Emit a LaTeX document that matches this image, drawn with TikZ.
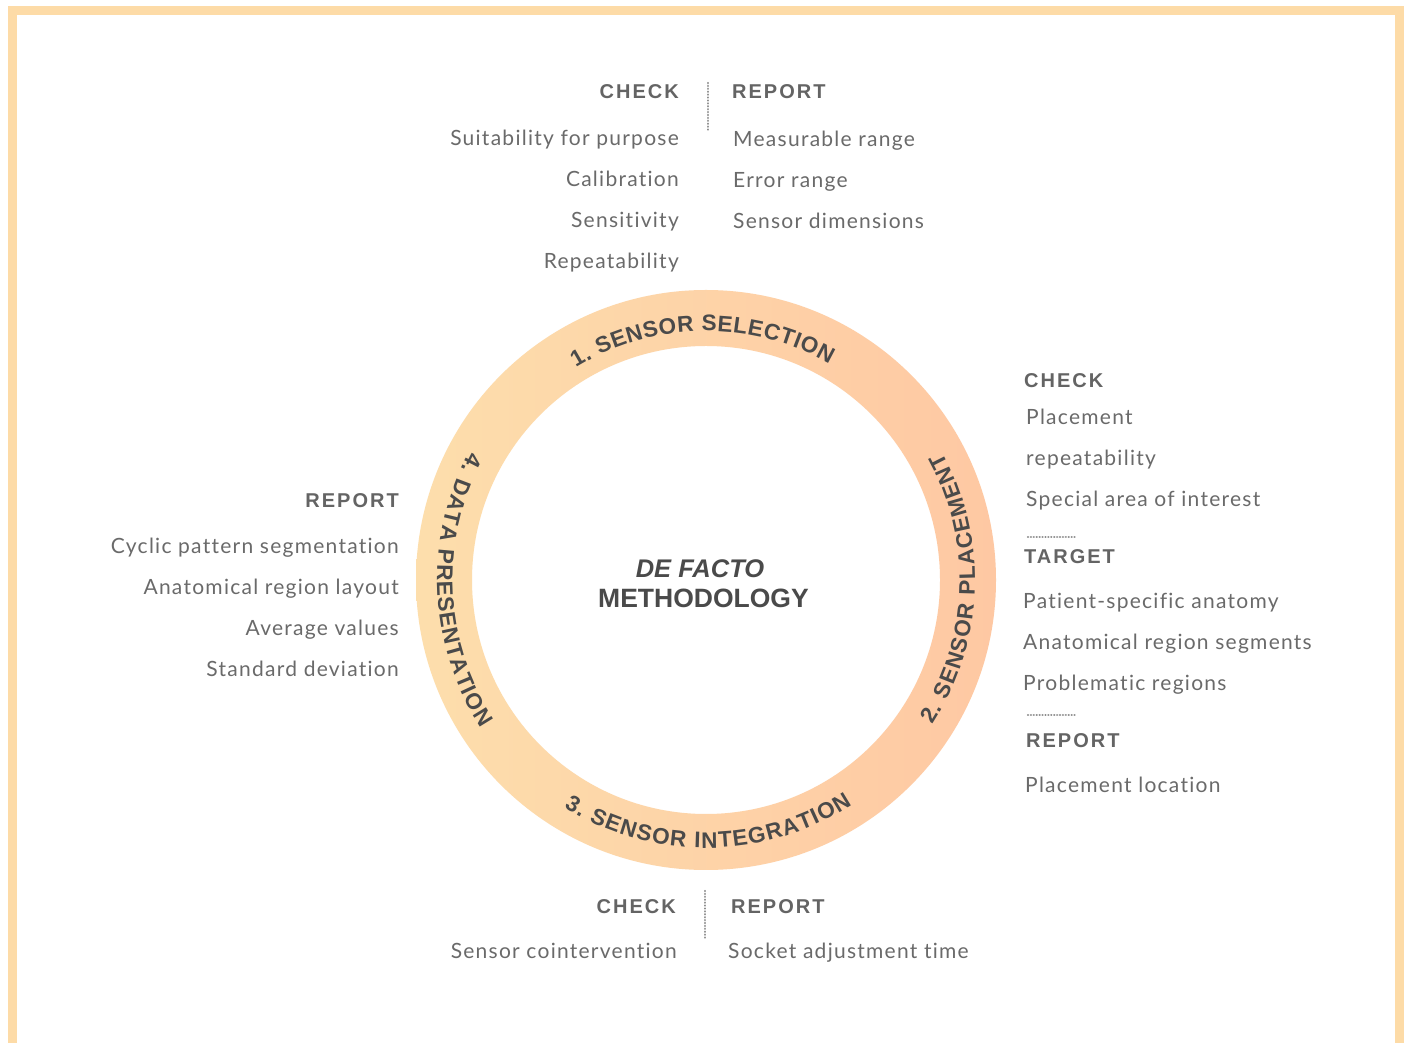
\documentclass[tikz,border=0pt]{standalone}
\usepackage{fontspec}
\setmainfont{Liberation Sans}
\newfontfamily\listfont{Lato}[LetterSpace=6,Ligatures=NoCommon]
\newfontfamily\headfont{Liberation Sans}[LetterSpace=10]
\usetikzlibrary{decorations.text}
\definecolor{framec}{HTML}{FDDBA7}
\definecolor{ringL}{HTML}{FDDEAC}
\definecolor{ringR}{HTML}{FEC8A3}
\definecolor{ringtext}{HTML}{4A4A4A}
\definecolor{headc}{HTML}{646464}
\definecolor{listc}{HTML}{6A6A6A}
\definecolor{dotc}{HTML}{8C8C8C}
\newcommand{\ringfont}{\fontsize{22.5}{26}\selectfont\bfseries\color{ringtext}}
\begin{document}
\begin{tikzpicture}[x=1pt,y=1pt,
  head/.style={font=\headfont\bfseries\fontsize{20}{22}\selectfont, text=headc, inner sep=0pt},
  item/.style={font=\listfont\fontsize{21}{24}\selectfont, text=listc, inner sep=0pt},
  dotline/.style={draw=dotc, line width=2.4pt, dash pattern=on 0.01pt off 2.9pt, line cap=round},
  ringlabel/.style={decorate, decoration={text along path, text align={fit to path}, text={#1}}}]
\useasboundingbox (0,0) rectangle (1406,1042);
\fill[white] (0,0) rectangle (1406,1042);
% frame
\draw[framec, line width=9pt] (12.5,-20) -- (12.5,1031.5) -- (1399.5,1031.5) -- (1399.5,-20);
% ring
\coordinate (c) at (706,462);
\shade[left color=ringL, right color=ringR, even odd rule] (c) circle[radius=290] (c) circle[radius=234];
\begin{scope}[shift={(706,462)}]
\path[ringlabel={|\ringfont|1. SENSOR SELECTION}] (121.5:249) arc[start angle=121.5, end angle=60.3, radius=249];
\path[ringlabel={|\ringfont|2. SENSOR PLACEMENT}] (-32.6:269) arc[start angle=-32.6, end angle=28.4, radius=269];
\path[ringlabel={|\ringfont|3. SENSOR INTEGRATION}] (-122:268) arc[start angle=-122, end angle=-57, radius=268];
\path[ringlabel={|\ringfont|4. DATA PRESENTATION}] (151.5:269) arc[start angle=151.5, end angle=213.3, radius=269];
\end{scope}
% centre
\node[font=\bfseries\itshape\fontsize{25.5}{28}\selectfont, text=ringtext, anchor=base, inner sep=0pt] (t1) at (700,464) {DE FACTO};
\node[font=\bfseries\fontsize{26.5}{30}\selectfont, text=ringtext, anchor=base, inner sep=0pt] (t2) at (703.5,434) {METHODOLOGY};
% top block
\node[head, anchor=base east] (tc) at (679,943) {CHECK};
\node[head, anchor=base west] (tr) at (732,943) {REPORT};
\coordinate (td1) at (708,959);
\coordinate (td2) at (708,911);
\draw[dotline] (td1) -- (td2);
\node[item, anchor=base east] (tc1) at (679,896) {Suitability for purpose};
\node[item, anchor=base east] (tc2) at (679,855) {Calibration};
\node[item, anchor=base east] (tc3) at (679,814) {Sensitivity};
\node[item, anchor=base east] (tc4) at (679,773) {Repeatability};
\node[item, anchor=base west] (tr1) at (733,895) {Measurable range};
\node[item, anchor=base west] (tr2) at (733,854) {Error range};
\node[item, anchor=base west] (tr3) at (733,813) {Sensor dimensions};
% right block
\node[head, anchor=base west] (rc) at (1024,654) {CHECK};
\node[item, anchor=base west] (rc1) at (1026,617) {Placement};
\node[item, anchor=base west] (rc2) at (1026,576) {repeatability};
\node[item, anchor=base west] (rc3) at (1026,535) {Special area of interest};
\coordinate (rd1) at (1028,505);
\coordinate (rd2) at (1077,505);
\draw[dotline] (rd1) -- (rd2);
\node[head, anchor=base west] (rt) at (1024,478) {TARGET};
\node[item, anchor=base west] (rt1) at (1023,433) {Patient-specific anatomy};
\node[item, anchor=base west] (rt2) at (1023,392) {Anatomical region segments};
\node[item, anchor=base west] (rt3) at (1023,351) {Problematic regions};
\coordinate (rd3) at (1028,327);
\coordinate (rd4) at (1077,327);
\draw[dotline] (rd3) -- (rd4);
\node[head, anchor=base west] (rr) at (1026,294) {REPORT};
\node[item, anchor=base west] (rr1) at (1025,249) {Placement location};
% left block
\node[head, anchor=base east] (lr) at (399,534) {REPORT};
\node[item, anchor=base east] (lr1) at (399,488) {Cyclic pattern segmentation};
\node[item, anchor=base east] (lr2) at (399,447) {Anatomical region layout};
\node[item, anchor=base east] (lr3) at (399,406) {Average values};
\node[item, anchor=base east] (lr4) at (399,365) {Standard deviation};
% bottom block
\node[head, anchor=base east] (bc) at (676,128) {CHECK};
\node[head, anchor=base west] (br) at (731,128) {REPORT};
\coordinate (bd1) at (705,151);
\coordinate (bd2) at (705,102);
\draw[dotline] (bd1) -- (bd2);
\node[item, anchor=base east] (bc1) at (677,84) {Sensor cointervention};
\node[item, anchor=base west] (br1) at (728,84) {Socket adjustment time};
\end{tikzpicture}
\end{document}
